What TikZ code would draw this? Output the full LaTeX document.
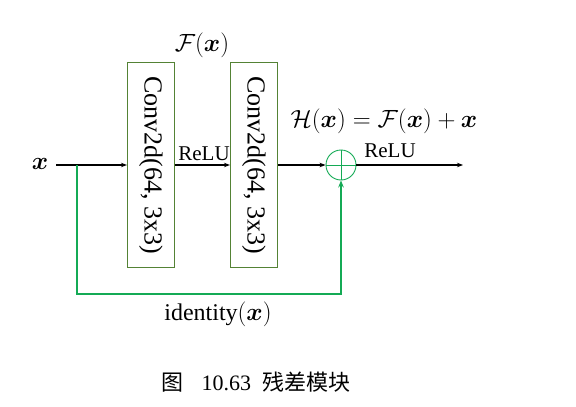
\documentclass[tikz,border=0pt]{standalone}
\usepackage{amsmath,bm}
\usepackage{fontspec}
\setmainfont{Liberation Serif}
\newfontfamily\cjk{Noto Sans CJK SC}
\usetikzlibrary{arrows.meta}
\definecolor{boxgreen}{RGB}{84,130,53}
\definecolor{linegreen}{RGB}{20,170,85}
\tikzset{
  convbox/.style={draw=boxgreen, line width=1.1pt, minimum width=47pt, minimum height=205pt, inner sep=0pt},
  convtext/.style={rotate=-90, font=\fontsize{26}{28}\selectfont},
  blackline/.style={line width=1.2pt, -{Stealth[length=6pt,width=4.5pt]}},
  greenline/.style={draw=linegreen, line width=2pt, -{Stealth[length=7pt,width=5.5pt]}},
  lbl/.style={inner sep=0pt, font=\fontsize{21}{24}\selectfont},
  mlbl/.style={inner sep=0pt, font=\fontsize{25}{28}\selectfont},
  plusnode/.style={circle, draw=linegreen, line width=0.9pt, minimum size=30pt, inner sep=0pt}
}
\begin{document}
\begin{tikzpicture}[x=1pt, y=-1pt]
\useasboundingbox (0,0) rectangle (576,407);
\fill[white] (0,0) rectangle (576,407);
% input
\node[mlbl] (xin) at (40,164) {$\bm{x}$};
% boxes
\node[convbox] (b1) at (151,165) {};
\node[convtext] (t1) at (b1.center) {Conv2d(64, 3x3)};
\node[convbox] (b2) at (254,165) {};
\node[convtext] (t2) at (b2.center) {Conv2d(64, 3x3)};
% adder
\node[plusnode] (plus) at (341,165) {};
\draw[linegreen, line width=0.9pt] (plus.north) -- (plus.south) (plus.west) -- (plus.east);
\coordinate (out) at (463,165);
\coordinate (br) at (77,165);
\coordinate (bl) at (77,294);
% connectors
\draw[blackline] (xin.east |- b1.west) ++(8,0) -- (b1.west);
\draw[blackline] (b1.east) -- (b2.west);
\draw[blackline] (b2.east) -- (plus.west);
\draw[blackline] (plus.east) -- (out);
\draw[greenline] (br) -- (bl) -| (plus.south);
% labels
\node[mlbl] (fx) at (202,45) {$\mathcal{F}(\bm{x})$};
\node[lbl, anchor=base] (relu1) at (204,160) {ReLU};
\node[mlbl] (hx) at (384,121) {$\mathcal{H}(\bm{x})=\mathcal{F}(\bm{x})+\bm{x}$};
\node[lbl, anchor=base] (relu2) at (390,157) {ReLU};
\node[inner sep=0pt, font=\fontsize{24}{26}\selectfont] (id) at (218,314) {identity$(\bm{x})$};
\node[inner sep=0pt, font=\fontsize{22}{25}\selectfont] (cap) at (256,382) {{\cjk 图}\hspace{0.8em}10.63\hspace{0.5em}{\cjk 残差模块}};
\end{tikzpicture}
\end{document}
